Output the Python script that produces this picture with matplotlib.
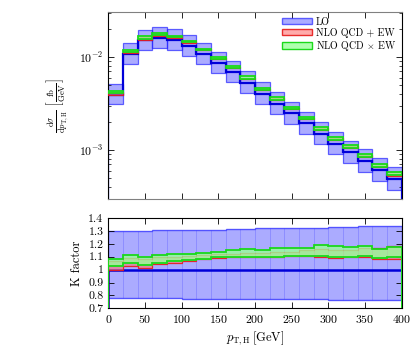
import numpy as np
import matplotlib
matplotlib.use("Agg")
import matplotlib.pyplot as plt
from matplotlib.patches import Patch
from matplotlib.ticker import MultipleLocator, FormatStrFormatter, LogLocator, NullFormatter

plt.rcParams["font.family"] = ["cmr10", "DejaVu Serif"]
plt.rcParams["mathtext.fontset"] = "cm"
plt.rcParams["axes.formatter.use_mathtext"] = True

# p_T,H bins [GeV]
bin_edges = np.arange(0, 420, 20)

# LO differential cross section [fb/GeV], central value per bin
lo_central = [3.95e-3, 1.077e-2, 1.52e-2, 1.62e-2, 1.52e-2, 1.33e-2, 1.09e-2, 8.73e-3, 6.90e-3, 5.32e-3,
              4.05e-3, 3.16e-3, 2.47e-3, 1.93e-3, 1.50e-3, 1.17e-3, 9.5e-4, 7.6e-4, 6.1e-4, 4.88e-4]
# LO scale band, relative to central
lo_scale_up = [1.30, 1.30, 1.30, 1.305, 1.305, 1.31, 1.31, 1.31, 1.315, 1.315,
               1.32, 1.32, 1.32, 1.325, 1.325, 1.33, 1.33, 1.335, 1.335, 1.34]
lo_scale_down = [0.782, 0.782, 0.78, 0.778, 0.778, 0.776, 0.775, 0.775, 0.774, 0.773,
                 0.772, 0.771, 0.77, 0.77, 0.769, 0.768, 0.767, 0.766, 0.765, 0.765]

# K factor bands (NLO / LO)
k_add_low = [1.00, 1.03, 1.015, 1.04, 1.055, 1.065, 1.08, 1.09, 1.10, 1.10,
             1.095, 1.10, 1.105, 1.105, 1.10, 1.09, 1.095, 1.10, 1.08, 1.082]
k_add_high = [1.07, 1.09, 1.085, 1.095, 1.10, 1.105, 1.11, 1.12, 1.12, 1.13,
              1.13, 1.14, 1.14, 1.15, 1.16, 1.155, 1.155, 1.165, 1.17, 1.185]
k_mult_low = [1.03, 1.05, 1.035, 1.055, 1.068, 1.078, 1.085, 1.095, 1.10, 1.10,
              1.095, 1.10, 1.105, 1.105, 1.105, 1.095, 1.10, 1.105, 1.087, 1.10]
k_mult_high = [1.085, 1.115, 1.10, 1.115, 1.12, 1.125, 1.13, 1.14, 1.152, 1.162,
               1.155, 1.165, 1.17, 1.17, 1.19, 1.18, 1.178, 1.185, 1.16, 1.175]

labels = ["LO", "NLO QCD + EW", r"NLO QCD $\times$ EW"]

blue_face = (0.0, 0.0, 1.0, 0.33)
blue_edge = (0.15, 0.15, 1.0, 0.7)
red_face = (1.0, 0.45, 0.45, 0.6)
red_edge = (0.9, 0.1, 0.1, 0.9)
green_face = (0.6, 1.0, 0.6, 0.8)
green_edge = (0.1, 0.85, 0.1, 1.0)

lo = np.array(lo_central)
left = bin_edges[:-1]
width = np.diff(bin_edges)

fig = plt.figure(figsize=(4.15, 3.64), dpi=100)
ax_top = fig.add_axes([0.261, 0.4533, 0.7065, 0.5137])
ax_bot = fig.add_axes([0.261, 0.153, 0.7065, 0.248])


def draw_boxes(ax, low, high, face, edge, lw, z):
    # one outlined box per bin
    ax.bar(left, np.array(high) - np.array(low), width=width, bottom=low, align="edge",
           facecolor=face, edgecolor=edge, linewidth=lw, zorder=z)


def draw_steps(ax, low, high, face, edge, lw, z):
    # connected step band, faint bin separators
    ax.bar(left, np.array(high) - np.array(low), width=width, bottom=low, align="edge",
           facecolor=face, edgecolor=(face[0], face[1], face[2], 0.12), linewidth=0.6, zorder=z)
    ax.stairs(high, bin_edges, color=edge, linewidth=lw, zorder=z + 0.1)
    ax.stairs(low, bin_edges, color=edge, linewidth=lw, zorder=z + 0.1)


# top panel: cross sections
draw_boxes(ax_top, lo * np.array(lo_scale_down), lo * np.array(lo_scale_up), blue_face, blue_edge, 0.9, 1)
ax_top.stairs(lo, bin_edges, color=(0.0, 0.0, 0.85), linewidth=1.6, zorder=2)
draw_boxes(ax_top, lo * np.array(k_add_low), lo * np.array(k_add_high), red_face, red_edge, 0.9, 3)
draw_boxes(ax_top, lo * np.array(k_mult_low), lo * np.array(k_mult_high), green_face, green_edge, 1.3, 4)

ax_top.set_yscale("log")
ax_top.set_xlim(0, 400)
ax_top.set_ylim(2.97e-4, 3.05e-2)
ax_top.xaxis.set_major_locator(MultipleLocator(50))
ax_top.set_xticklabels([])
ax_top.yaxis.set_major_locator(LogLocator(base=10))
ax_top.yaxis.set_minor_locator(LogLocator(base=10, subs=np.arange(2, 10)))
ax_top.yaxis.set_minor_formatter(NullFormatter())
ax_top.set_ylabel(r"$\frac{\mathrm{d}\sigma}{\mathrm{d}p_{\mathrm{T,H}}}\ \left[\frac{\mathrm{fb}}{\mathrm{GeV}}\right]$",
                  fontsize=9, labelpad=6)
for side in ("top", "bottom"):
    ax_top.spines[side].set_color("#808080")

handles = [Patch(facecolor=blue_face, edgecolor=blue_edge, linewidth=1),
           Patch(facecolor=red_face, edgecolor=red_edge, linewidth=1),
           Patch(facecolor=green_face, edgecolor=green_edge, linewidth=1)]
ax_top.legend(handles, labels, loc="upper right", frameon=False, fontsize=7.2,
              handlelength=3.0, handleheight=0.6, handletextpad=0.4, labelspacing=0.12,
              borderaxespad=0.3, borderpad=0.2)

# bottom panel: K factor
ones = np.ones_like(lo)
draw_steps(ax_bot, lo_scale_down, lo_scale_up, blue_face, blue_edge, 1.0, 1)
ax_bot.stairs(ones, bin_edges, color=(0.0, 0.0, 0.85), linewidth=1.8, zorder=2)
draw_steps(ax_bot, k_add_low, k_add_high, red_face, red_edge, 0.9, 3)
draw_steps(ax_bot, k_mult_low, k_mult_high, green_face, green_edge, 1.3, 4)

ax_bot.set_xlim(0, 400)
ax_bot.set_ylim(0.7, 1.4)
ax_bot.xaxis.set_major_locator(MultipleLocator(50))
ax_bot.yaxis.set_major_locator(MultipleLocator(0.1))
ax_bot.yaxis.set_major_formatter(FormatStrFormatter("%g"))
ax_bot.set_ylabel("K factor", fontsize=9, labelpad=4)
ax_bot.set_xlabel(r"$p_{\mathrm{T,H}}\,[\mathrm{GeV}]$", fontsize=9, labelpad=3)

for ax in (ax_top, ax_bot):
    ax.tick_params(which="both", direction="in", top=True, right=True, labelsize=8.5)
    ax.tick_params(which="major", length=4, width=0.6)
    ax.tick_params(which="minor", length=2, width=0.5)

fig.savefig("out.png", dpi=100)
